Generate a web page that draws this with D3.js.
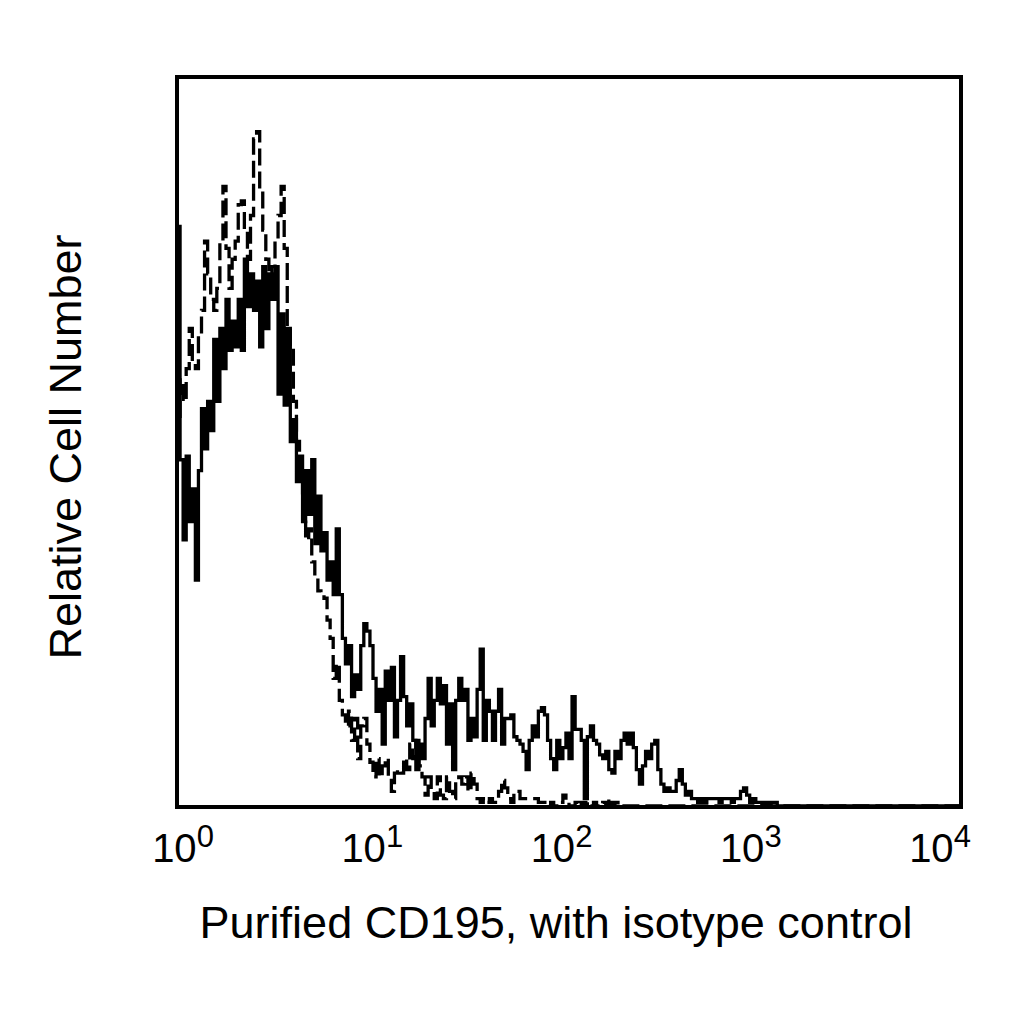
<!DOCTYPE html>
<html>
<head>
<meta charset="utf-8">
<script src="https://cdn.jsdelivr.net/npm/d3@7"></script>
<style>
    body { margin: 0; background: #fff; }
    text { font-family: "Liberation Sans", Arial, Helvetica, sans-serif; fill: #000; }
</style>
</head>
<body>
<div id="chart"></div>
<script>
// histogram channel counts, 256 log-spaced bins from 10^0 to 10^4 (missing bins are empty)
let cd195Counts = [
    159, 95, 73, 96, 78, 87, 62, 92, 109, 98,
    111, 103, 128, 111, 131, 120, 139, 125, 133, 126,
    139, 125, 150, 137, 146, 136, 144, 126, 148, 131,
    146, 139, 148, 113, 135, 110, 131, 100, 106, 89,
    96, 78, 92, 80, 95, 72, 85, 70, 75, 62,
    67, 58, 76, 58, 46, 39, 44, 30, 36, 32,
    44, 50, 48, 44, 35, 26, 32, 17, 37, 29,
    38, 19, 29, 41, 30, 22, 28, 18, 10, 17,
    13, 24, 35, 22, 29, 35, 28, 33, 17, 28,
    10, 29, 35, 29, 32, 18, 24, 19, 32, 43,
    18, 29, 26, 18, 26, 32, 17, 24, 24, 25,
    19, 18, 17, 15, 10, 18, 22, 19, 26, 27,
    25, 18, 13, 10, 18, 13, 16, 20, 13, 30,
    21, 21, 18, 2, 19, 22, 18, 17, 14, 13,
    15, 10, 9, 15, 13, 18, 20, 17, 20, 16,
    10, 6, 11, 15, 13, 17, 18, 10, 6, 4,
    5, 4, 4, 7, 10, 6, 3, 4, 2, 2,
    1, 2, 1, 2, 2, 2, 2, 1, 2, 2,
    2, 1, 2, 2, 4, 5, 3, 1, 2, 1,
    1, 0, 1, 0, 1, 1, 0
];

let isotypeCounts = [
    106, 117, 111, 120, 131, 122, 120, 129, 136, 155,
    146, 139, 136, 142, 155, 170, 153, 142, 150, 155,
    165, 166, 158, 150, 162, 183, 185, 169, 158, 150,
    139, 148, 155, 162, 170, 153, 131, 125, 111, 100,
    92, 84, 73, 76, 67, 63, 59, 58, 57, 51,
    46, 35, 39, 29, 25, 22, 26, 18, 24, 13,
    22, 24, 17, 12, 8, 13, 8, 11, 13, 8,
    4, 9, 10, 9, 13, 10, 17, 13, 18, 11,
    8, 3, 8, 4, 2, 8, 3, 2, 8, 4,
    2, 7, 8, 6, 8, 4, 9, 6, 2, 1,
    2, 1, 2, 1, 2, 4, 7, 5, 2, 1,
    4, 4, 2, 2, 2, 2, 2, 2, 1, 1,
    1, 0, 1, 0, 1, 1, 3, 1, 0, 0,
    1, 0, 1, 0, 1, 0, 1, 0, 0, 1,
    0, 2, 0, 1, 0
];

let tickValues = [1, 10, 100, 1000, 10000];
let tickExponents = ["0", "1", "2", "3", "4"];
let xTitle = "Purified CD195, with isotype control";
let yTitle = "Relative Cell Number";
let nBins = 256;

class histViz {
    constructor(parentElement) {
        this.parentElement = parentElement;
        this.initVis();
    }

    initVis() {
        let vis = this;

        vis.margin = {top: 77, right: 63, bottom: 217, left: 177};
        vis.width = 1024 - vis.margin.left - vis.margin.right;
        vis.height = 1024 - vis.margin.top - vis.margin.bottom;

        vis.root = d3.select("#" + vis.parentElement).append("svg")
            .attr("width", 1024)
            .attr("height", 1024);

        vis.svg = vis.root.append("g")
            .attr("transform", "translate(" + vis.margin.left + "," + vis.margin.top + ")");

        vis.x = d3.scaleLog()
            .domain([1, 10000])
            .range([0, vis.width]);

        // tick labels in the original sit slightly inside the decade marks
        vis.xLabel = d3.scaleLog()
            .domain([1, 10000])
            .range([6, 763]);

        vis.y = d3.scaleLinear()
            .domain([0, 200])
            .range([vis.height - 1, 0]);

        vis.svg.append("clipPath")
            .attr("id", "plot-clip")
            .append("rect")
            .attr("width", vis.width)
            .attr("height", vis.height);

        vis.wrangleData();
    }

    wrangleData() {
        let vis = this;

        let toSteps = counts => {
            let full = d3.range(nBins).map(i => counts[i] || 0);
            let pts = [[1, 0]];
            full.forEach((c, i) => pts.push([Math.pow(10, 4 * i / nBins), c]));
            pts.push([10000, full[nBins - 1]]);
            return pts;
        };

        vis.series = [
            {name: "isotype", points: toSteps(isotypeCounts), dash: "17,6"},
            {name: "cd195", points: toSteps(cd195Counts), dash: null}
        ];

        vis.updateVis();
    }

    updateVis() {
        let vis = this;

        let line = d3.line()
            .x(d => vis.x(d[0]))
            .y(d => vis.y(d[1]))
            .curve(d3.curveStepAfter);

        vis.svg.append("g")
            .attr("clip-path", "url(#plot-clip)")
            .selectAll("path")
            .data(vis.series)
            .enter()
            .append("path")
            .attr("class", d => "hist " + d.name)
            .attr("d", d => line(d.points))
            .attr("fill", "none")
            .attr("stroke", "#000")
            .attr("stroke-width", 3.3)
            .attr("stroke-linejoin", "miter")
            .attr("stroke-dasharray", d => d.dash);

        // frame
        vis.svg.append("rect")
            .attr("width", vis.width)
            .attr("height", vis.height)
            .attr("fill", "none")
            .attr("stroke", "#000")
            .attr("stroke-width", 4);

        // decade labels as 10 with superscript exponent
        let labels = vis.svg.append("g")
            .attr("class", "x-axis")
            .selectAll("text")
            .data(tickValues)
            .enter()
            .append("text")
            .attr("x", d => vis.xLabel(d))
            .attr("y", vis.height + 55)
            .attr("text-anchor", "middle")
            .style("font-size", "40px");

        labels.append("tspan").text("10");
        labels.append("tspan")
            .attr("dy", -15)
            .style("font-size", "31px")
            .text((d, i) => tickExponents[i]);

        vis.root.append("text")
            .attr("x", 556)
            .attr("y", 938)
            .attr("text-anchor", "middle")
            .style("font-size", "45px")
            .text(xTitle);

        vis.root.append("text")
            .attr("transform", "translate(81,447) rotate(-90)")
            .attr("text-anchor", "middle")
            .style("font-size", "45px")
            .text(yTitle);
    }
}

let viz = new histViz("chart");
</script>
</body>
</html>
